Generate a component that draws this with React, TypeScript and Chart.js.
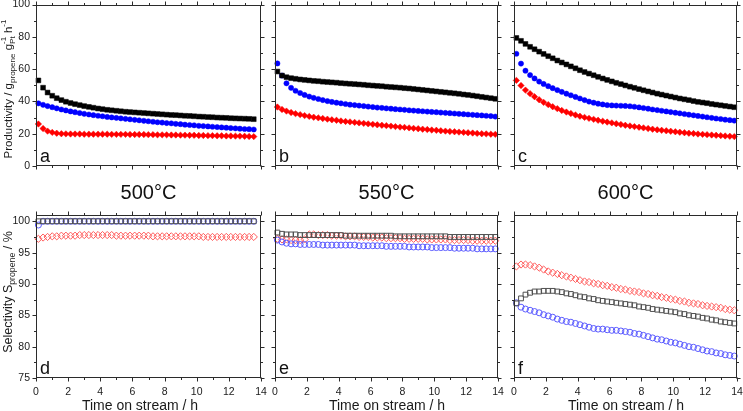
import React, { useEffect, useRef } from 'react';
import { Chart, registerables } from 'chart.js';

Chart.register(...registerables);

// ---------- data ----------
const TIME_H = [0.15, 0.44, 0.72, 1.01, 1.29, 1.58, 1.86, 2.15, 2.43, 2.72, 3.0, 3.29, 3.57, 3.86, 4.14, 4.43, 4.71, 5.0, 5.28, 5.57, 5.85, 6.14, 6.42, 6.71, 6.99, 7.28, 7.56, 7.85, 8.13, 8.42, 8.7, 8.99, 9.27, 9.56, 9.84, 10.13, 10.41, 10.7, 10.98, 11.27, 11.55, 11.84, 12.12, 12.41, 12.69, 12.98, 13.26, 13.55, 13.83];

const X_TICKS = [0, 2, 4, 6, 8, 10, 12, 14];
const TEMPS = ['500°C', '550°C', '600°C'];
const LETTERS = ['a', 'b', 'c', 'd', 'e', 'f'];
const SERIES_NAMES = ['Catalyst 1', 'Catalyst 2', 'Catalyst 3'];
const X_TITLE = 'Time on stream / h';

// Productivity (g_propene g_Pt^-1 h^-1)
const PROD_500_BLACK = [53.0, 48.5, 45.5, 43.5, 42.0, 40.8, 39.8, 39.0, 38.3, 37.7, 37.1, 36.6, 36.1, 35.6, 35.2, 34.8, 34.5, 34.2, 33.9, 33.6, 33.4, 33.2, 33.0, 32.8, 32.6, 32.4, 32.2, 32.0, 31.8, 31.6, 31.5, 31.3, 31.1, 31.0, 30.8, 30.6, 30.5, 30.3, 30.2, 30.0, 29.9, 29.8, 29.6, 29.5, 29.4, 29.3, 29.2, 29.0];
const PROD_500_BLUE = [38.8, 37.9, 37.1, 36.4, 35.7, 35.0, 34.4, 33.8, 33.3, 32.8, 32.3, 31.9, 31.5, 31.1, 30.8, 30.4, 30.1, 29.8, 29.5, 29.2, 28.9, 28.6, 28.3, 28.0, 27.7, 27.4, 27.1, 26.9, 26.6, 26.4, 26.1, 25.9, 25.6, 25.4, 25.2, 24.9, 24.7, 24.5, 24.3, 24.1, 23.9, 23.7, 23.5, 23.3, 23.1, 22.9, 22.8, 22.6];
const PROD_500_RED = [26.0, 23.2, 21.6, 20.8, 20.3, 20.0, 19.9, 19.8, 19.8, 19.8, 19.7, 19.7, 19.7, 19.7, 19.7, 19.7, 19.6, 19.6, 19.6, 19.6, 19.5, 19.5, 19.5, 19.5, 19.4, 19.4, 19.3, 19.3, 19.3, 19.2, 19.2, 19.1, 19.1, 19.0, 19.0, 18.9, 18.9, 18.8, 18.8, 18.7, 18.7, 18.6, 18.6, 18.5, 18.5, 18.4, 18.3, 18.2];

const PROD_550_BLACK = [58.5, 56.0, 55.0, 54.4, 54.0, 53.6, 53.3, 53.0, 52.7, 52.5, 52.2, 52.0, 51.8, 51.6, 51.3, 51.1, 50.9, 50.7, 50.5, 50.3, 50.0, 49.8, 49.6, 49.4, 49.1, 48.9, 48.7, 48.5, 48.2, 48.0, 47.7, 47.4, 47.1, 46.8, 46.5, 46.2, 45.9, 45.6, 45.3, 45.0, 44.7, 44.3, 44.0, 43.6, 43.2, 42.8, 42.4, 42.0, 41.6];
const PROD_550_BLUE = [63.5, 56.0, 51.2, 48.4, 46.6, 45.2, 44.0, 43.0, 42.2, 41.5, 40.8, 40.2, 39.7, 39.2, 38.8, 38.4, 38.0, 37.7, 37.4, 37.1, 36.8, 36.5, 36.2, 36.0, 35.7, 35.5, 35.2, 35.0, 34.8, 34.5, 34.3, 34.1, 33.9, 33.7, 33.5, 33.3, 33.1, 32.9, 32.7, 32.5, 32.3, 32.1, 31.9, 31.7, 31.5, 31.3, 31.1, 30.9, 30.6];
const PROD_550_RED = [36.5, 35.0, 34.0, 33.1, 32.4, 31.8, 31.2, 30.7, 30.2, 29.8, 29.4, 29.0, 28.6, 28.3, 27.9, 27.6, 27.3, 27.0, 26.7, 26.4, 26.1, 25.8, 25.5, 25.2, 25.0, 24.7, 24.4, 24.1, 23.9, 23.6, 23.3, 23.1, 22.8, 22.6, 22.3, 22.1, 21.8, 21.6, 21.4, 21.2, 21.0, 20.8, 20.6, 20.4, 20.2, 20.0, 19.9, 19.7, 19.6];

const PROD_600_BLACK = [79.3, 77.5, 75.6, 73.8, 72.3, 70.8, 69.4, 68.0, 66.7, 65.3, 64.1, 62.9, 61.7, 60.5, 59.3, 58.2, 57.2, 56.2, 55.2, 54.2, 53.3, 52.4, 51.5, 50.7, 49.9, 49.1, 48.4, 47.6, 46.9, 46.2, 45.5, 44.8, 44.2, 43.6, 43.0, 42.4, 41.8, 41.3, 40.8, 40.2, 39.7, 39.3, 38.9, 38.4, 38.0, 37.6, 37.2, 36.8, 36.4];
const PROD_600_BLUE = [69.5, 63.4, 59.0, 56.3, 54.2, 52.3, 50.8, 49.4, 48.2, 47.0, 45.9, 44.8, 43.8, 42.8, 41.8, 40.8, 39.9, 39.2, 38.6, 38.1, 37.7, 37.5, 37.4, 37.3, 37.2, 37.0, 36.7, 36.3, 35.9, 35.5, 35.0, 34.6, 34.2, 33.8, 33.4, 33.0, 32.6, 32.2, 31.8, 31.4, 31.0, 30.6, 30.2, 29.8, 29.4, 29.1, 28.7, 28.4, 28.1];
const PROD_600_RED = [53.0, 49.8, 47.0, 44.8, 42.9, 41.0, 39.4, 38.0, 36.7, 35.5, 34.4, 33.4, 32.5, 31.6, 30.8, 30.1, 29.5, 28.9, 28.3, 27.7, 27.2, 26.7, 26.2, 25.7, 25.2, 24.8, 24.4, 24.0, 23.6, 23.2, 22.8, 22.4, 22.1, 21.8, 21.5, 21.2, 20.9, 20.6, 20.3, 20.1, 19.8, 19.6, 19.4, 19.2, 19.0, 18.8, 18.6, 18.4, 18.2];

// Selectivity (%)
const SEL_500_BLACK = [100.0, 100.0, 100.0, 100.0, 100.0, 100.0, 100.0, 100.0, 100.0, 100.0, 100.0, 100.0, 100.0, 100.0, 100.0, 100.0, 100.0, 100.0, 100.0, 100.0, 100.0, 100.0, 100.0, 100.0, 100.0, 100.0, 100.0, 100.0, 100.0, 100.0, 100.0, 100.0, 100.0, 100.0, 100.0, 100.0, 100.0, 100.0, 100.0, 100.0, 100.0, 100.0, 100.0, 100.0, 100.0, 100.0, 100.0, 100.0];
const SEL_500_BLUE = [99.4, 100.0, 100.0, 100.0, 100.0, 100.0, 100.0, 100.0, 100.0, 100.0, 100.0, 100.0, 100.0, 100.0, 100.0, 100.0, 100.0, 100.0, 100.0, 100.0, 100.0, 100.0, 100.0, 100.0, 100.0, 100.0, 100.0, 100.0, 100.0, 100.0, 100.0, 100.0, 100.0, 100.0, 100.0, 100.0, 100.0, 100.0, 100.0, 100.0, 100.0, 100.0, 100.0, 100.0, 100.0, 100.0, 100.0, 100.0];
const SEL_500_RED = [97.2, 97.4, 97.5, 97.6, 97.6, 97.7, 97.7, 97.7, 97.7, 97.8, 97.8, 97.8, 97.8, 97.8, 97.8, 97.8, 97.8, 97.7, 97.7, 97.7, 97.7, 97.7, 97.7, 97.7, 97.7, 97.6, 97.6, 97.6, 97.6, 97.6, 97.6, 97.6, 97.6, 97.6, 97.6, 97.6, 97.5, 97.5, 97.5, 97.5, 97.5, 97.5, 97.5, 97.5, 97.5, 97.5, 97.5, 97.5];

const SEL_550_BLACK = [98.2, 98.0, 97.9, 97.9, 97.9, 97.8, 97.8, 97.8, 97.8, 97.8, 97.8, 97.8, 97.8, 97.8, 97.8, 97.7, 97.7, 97.7, 97.7, 97.7, 97.7, 97.7, 97.7, 97.7, 97.7, 97.7, 97.6, 97.6, 97.6, 97.6, 97.6, 97.6, 97.6, 97.6, 97.6, 97.6, 97.6, 97.6, 97.5, 97.5, 97.5, 97.5, 97.5, 97.5, 97.5, 97.5, 97.5, 97.5, 97.5];
const SEL_550_BLUE = [97.0, 96.7, 96.5, 96.4, 96.4, 96.3, 96.3, 96.3, 96.3, 96.3, 96.2, 96.2, 96.2, 96.2, 96.2, 96.2, 96.2, 96.2, 96.1, 96.1, 96.1, 96.1, 96.1, 96.1, 96.0, 96.0, 96.0, 96.0, 96.0, 95.9, 95.9, 95.9, 95.9, 95.9, 95.8, 95.8, 95.8, 95.8, 95.8, 95.7, 95.7, 95.7, 95.7, 95.7, 95.6, 95.6, 95.6, 95.6, 95.6];
const SEL_550_RED = [97.2, 97.1, 97.1, 97.0, 97.0, 97.0, 97.1, 97.9, 97.9, 97.8, 97.8, 97.8, 97.7, 97.7, 97.7, 97.6, 97.6, 97.6, 97.5, 97.5, 97.5, 97.4, 97.4, 97.4, 97.3, 97.3, 97.3, 97.3, 97.2, 97.2, 97.2, 97.2, 97.2, 97.1, 97.1, 97.1, 97.1, 97.1, 97.0, 97.0, 97.0, 97.0, 97.0, 96.9, 96.9, 96.9, 96.9, 96.9, 96.9];

const SEL_600_BLACK = [86.9, 87.7, 88.3, 88.6, 88.8, 88.8, 88.9, 88.9, 88.9, 88.8, 88.7, 88.5, 88.4, 88.2, 88.0, 87.9, 87.7, 87.6, 87.4, 87.3, 87.2, 87.1, 87.0, 86.9, 86.8, 86.7, 86.6, 86.4, 86.3, 86.2, 86.0, 85.9, 85.8, 85.7, 85.6, 85.5, 85.3, 85.2, 85.0, 84.9, 84.8, 84.6, 84.5, 84.3, 84.2, 84.0, 83.9, 83.8, 83.7];
const SEL_600_BLUE = [87.0, 86.3, 86.0, 85.8, 85.6, 85.4, 85.1, 84.9, 84.7, 84.4, 84.2, 84.0, 83.9, 83.7, 83.5, 83.3, 83.1, 82.9, 82.8, 82.8, 82.7, 82.6, 82.6, 82.5, 82.4, 82.3, 82.1, 82.0, 81.8, 81.6, 81.4, 81.2, 81.1, 80.9, 80.7, 80.6, 80.4, 80.2, 80.0, 79.9, 79.7, 79.5, 79.3, 79.2, 79.0, 78.9, 78.7, 78.6, 78.5];
const SEL_600_RED = [92.8, 93.1, 93.1, 93.0, 92.8, 92.6, 92.3, 92.0, 91.8, 91.6, 91.4, 91.2, 91.0, 90.8, 90.6, 90.4, 90.3, 90.1, 90.0, 89.8, 89.7, 89.5, 89.4, 89.2, 89.1, 88.9, 88.8, 88.7, 88.5, 88.4, 88.2, 88.1, 87.9, 87.8, 87.6, 87.5, 87.3, 87.2, 87.0, 86.9, 86.8, 86.6, 86.5, 86.4, 86.3, 86.2, 86.0, 85.9, 85.8];

// ---------- styling / layout ----------
const FONT = '"Liberation Sans", Arial, Helvetica, sans-serif';
const W = 743;
const H = 411;
const COLS = [
  { l: 36, r: 261, titleX: 140 },
  { l: 275, r: 498, titleX: 387 },
  { l: 514, r: 737, titleX: 626 },
];
const ROWS = [
  { t: 4, b: 166, min: 0, max: 100, step: 20, minor: 10 },
  { t: 215, b: 378, min: 75, max: 101, step: 5, minor: 2.5 },
];

type Part = { t?: string; sub?: string; sup?: string };
const PROD_TITLE: Part[] = [
  { t: 'Productivity / g' },
  { sub: 'propene' },
  { t: ' g' },
  { sub: 'Pt', sup: '-1' },
  { t: ' h' },
  { sup: '-1' },
];
const SEL_TITLE: Part[] = [{ t: 'Selectivity S' }, { sub: 'propene' }, { t: ' / %' }];

const PROD_SETS = [
  [PROD_500_BLACK, PROD_500_BLUE, PROD_500_RED],
  [PROD_550_BLACK, PROD_550_BLUE, PROD_550_RED],
  [PROD_600_BLACK, PROD_600_BLUE, PROD_600_RED],
];
const SEL_SETS = [
  [SEL_500_BLACK, SEL_500_BLUE, SEL_500_RED],
  [SEL_550_BLACK, SEL_550_BLUE, SEL_550_RED],
  [SEL_600_BLACK, SEL_600_BLUE, SEL_600_RED],
];

function toPoints(vals: number[]) {
  return vals.map((v, i) => ({ x: TIME_H[i], y: v }));
}

function drawRich(ctx: CanvasRenderingContext2D, parts: Part[], x: number, cy: number, size: number) {
  const small = size * 0.7;
  const mainFont = `${size}px ${FONT}`;
  const smallFont = `${small}px ${FONT}`;
  const widths = parts.map((p) => {
    if (p.t) {
      ctx.font = mainFont;
      return ctx.measureText(p.t).width;
    }
    ctx.font = smallFont;
    return Math.max(p.sub ? ctx.measureText(p.sub).width : 0, p.sup ? ctx.measureText(p.sup).width : 0);
  });
  const total = widths.reduce((a, b) => a + b, 0);
  ctx.save();
  ctx.translate(x, cy);
  ctx.rotate(-Math.PI / 2);
  ctx.fillStyle = '#1a1a1a';
  ctx.textBaseline = 'alphabetic';
  ctx.textAlign = 'left';
  let cx = -total / 2;
  parts.forEach((p, i) => {
    if (p.t) {
      ctx.font = mainFont;
      ctx.fillText(p.t, cx, 0);
    } else {
      ctx.font = smallFont;
      if (p.sub) ctx.fillText(p.sub, cx, size * 0.28);
      if (p.sup) ctx.fillText(p.sup, cx, -size * 0.45);
    }
    cx += widths[i];
  });
  ctx.restore();
}

function makeChart(canvas: HTMLCanvasElement, row: number, col: number) {
  const C = COLS[col];
  const R = ROWS[row];
  const yW = col === 0 ? 36 : 0;
  const xH = row === 1 ? 30 : 0;
  const vals = row === 0 ? PROD_SETS[col] : SEL_SETS[col];
  const letter = LETTERS[row * 3 + col];

  const topStyles = [
    { pointStyle: 'rect', radius: 3.4, bg: '#000000', border: '#000000', bw: 0.5 },
    { pointStyle: 'circle', radius: 2.6, bg: '#0000ff', border: '#0000ff', bw: 0.5 },
    { pointStyle: 'rectRot', radius: 3.2, bg: '#ff0000', border: '#ff0000', bw: 0.5 },
  ];
  const botStyles = [
    { pointStyle: 'rect', radius: 3.4, bg: 'rgba(0,0,0,0)', border: '#505050', bw: 1 },
    { pointStyle: 'circle', radius: 3, bg: 'rgba(0,0,0,0)', border: '#5a5aff', bw: 1 },
    { pointStyle: 'rectRot', radius: 3.6, bg: 'rgba(0,0,0,0)', border: '#ff5a5a', bw: 1 },
  ];
  const styles = row === 0 ? topStyles : botStyles;

  const datasets = vals.map((v, i) => ({
    label: SERIES_NAMES[i],
    data: toPoints(v),
    showLine: false,
    pointStyle: styles[i].pointStyle as any,
    pointRadius: styles[i].radius,
    pointBackgroundColor: styles[i].bg,
    pointBorderColor: styles[i].border,
    pointBorderWidth: styles[i].bw,
    clip: false as any,
  }));

  const deco = {
    id: 'deco' + row + col,
    afterDraw(chart: any) {
      const ctx: CanvasRenderingContext2D = chart.ctx;
      const a = chart.chartArea;
      const xs = chart.scales.x;
      const ys = chart.scales.y;
      const L = Math.round(a.left) + 0.5;
      const Rr = Math.round(a.right) - 0.5;
      const T = Math.round(a.top) + 0.5;
      const B = Math.round(a.bottom) - 0.5;
      ctx.save();
      ctx.strokeStyle = '#2b2b2b';
      ctx.lineWidth = 1;
      ctx.strokeRect(L, T, Rr - L, B - T);
      ctx.beginPath();
      for (let v = 0; v <= 14 + 1e-9; v += 1) {
        const len = v % 2 === 0 ? 4 : 2.5;
        const px = Math.round(xs.getPixelForValue(v)) + 0.5;
        ctx.moveTo(px, B);
        ctx.lineTo(px, B + len);
        ctx.moveTo(px, T);
        ctx.lineTo(px, T - len);
      }
      for (let v = R.min; v <= R.max + 1e-9; v += R.minor) {
        const isMajor = Math.abs(v / R.step - Math.round(v / R.step)) < 1e-6;
        const len = isMajor ? 4 : 2.5;
        const py = Math.round(ys.getPixelForValue(v)) + 0.5;
        ctx.moveTo(L, py);
        ctx.lineTo(L - len, py);
        ctx.moveTo(Rr, py);
        ctx.lineTo(Rr + len, py);
      }
      ctx.stroke();

      ctx.fillStyle = '#111';
      ctx.textBaseline = 'alphabetic';
      ctx.textAlign = 'left';
      ctx.font = `18px ${FONT}`;
      ctx.fillText(letter, a.left + 4, a.bottom - 4);

      if (row === 0) {
        ctx.font = `20px ${FONT}`;
        ctx.textAlign = 'center';
        ctx.fillText(TEMPS[col], (a.left + a.right) / 2, 198.5);
      } else {
        ctx.font = `14px ${FONT}`;
        ctx.textAlign = 'center';
        ctx.fillStyle = '#1a1a1a';
        ctx.fillText(X_TITLE, C.titleX, 410);
      }
      if (col === 0) {
        if (row === 0) drawRich(ctx, PROD_TITLE, 11.5, 89, 11.5);
        else drawRich(ctx, SEL_TITLE, 11.5, 292, 12.5);
      }
      ctx.restore();
    },
  };

  return new Chart(canvas, {
    type: 'scatter',
    data: { datasets: datasets as any },
    plugins: [deco],
    options: {
      animation: false,
      responsive: false,
      maintainAspectRatio: false,
      events: [],
      layout: {
        padding: {
          left: C.l - yW,
          right: W - C.r,
          top: R.t,
          bottom: H - R.b - xH,
        },
      },
      plugins: {
        legend: { display: false },
        tooltip: { enabled: false },
      },
      scales: {
        x: {
          type: 'linear',
          min: 0,
          max: 14,
          afterBuildTicks: (s: any) => {
            s.ticks = X_TICKS.map((v) => ({ value: v }));
          },
          ticks: {
            display: row === 1,
            padding: 8,
            maxRotation: 0,
            autoSkip: false,
            color: '#1a1a1a',
            font: { size: 10.5, family: FONT },
          },
          grid: { display: false, drawTicks: false, tickLength: 0 },
          border: { display: false },
          title: { display: false },
          afterFit: (s: any) => {
            s.height = xH;
            s.paddingLeft = 0;
            s.paddingRight = 0;
            s.paddingTop = 0;
            s.paddingBottom = 0;
          },
        },
        y: {
          type: 'linear',
          min: R.min,
          max: R.max,
          ticks: {
            display: col === 0,
            stepSize: R.step,
            includeBounds: false,
            padding: 6,
            color: '#1a1a1a',
            font: { size: 10.5, family: FONT },
          },
          grid: { display: false, drawTicks: false, tickLength: 0 },
          border: { display: false },
          afterFit: (s: any) => {
            s.width = yW;
            s.paddingLeft = 0;
            s.paddingRight = 0;
            s.paddingTop = 0;
            s.paddingBottom = 0;
          },
        },
      },
    } as any,
  });
}

const PANEL_IDS = [
  [0, 0],
  [0, 1],
  [0, 2],
  [1, 0],
  [1, 1],
  [1, 2],
];

export default function App() {
  const refs = useRef<(HTMLCanvasElement | null)[]>([]);

  useEffect(() => {
    const charts = PANEL_IDS.map(([r, c], i) => makeChart(refs.current[i] as HTMLCanvasElement, r, c));
    return () => charts.forEach((ch) => ch.destroy());
  }, []);

  return (
    <div style={{ position: 'fixed', left: 0, top: 0, width: W, height: H, background: '#ffffff' }}>
      {PANEL_IDS.map((_, i) => (
        <canvas
          key={i}
          ref={(el) => {
            refs.current[i] = el;
          }}
          width={W}
          height={H}
          style={{ position: 'absolute', left: 0, top: 0, width: W, height: H }}
        />
      ))}
    </div>
  );
}
